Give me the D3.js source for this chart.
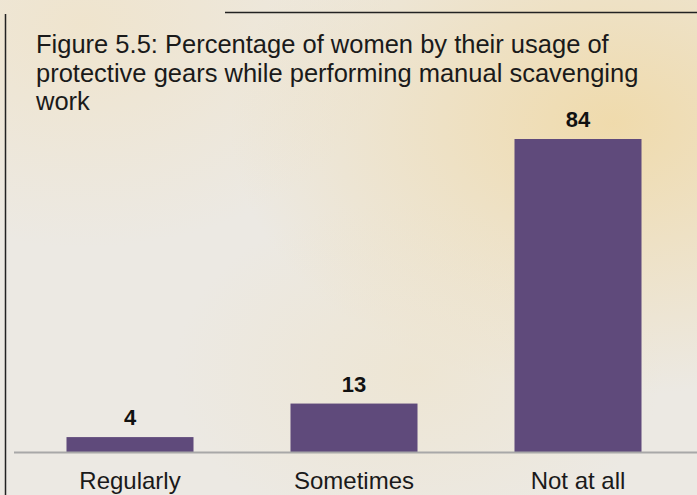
<!DOCTYPE html>
<html>
<head>
<meta charset="utf-8">
<script src="https://cdn.jsdelivr.net/npm/d3@7"></script>
<style>
  html, body { margin: 0; padding: 0; }
  body { width: 697px; height: 495px; overflow: hidden; }
</style>
</head>
<body>
<script>
var CATEGORIES = ["Regularly", "Sometimes", "Not at all"];
var VALUES = [4, 13, 84];
var TITLE_LINES = [
  "Figure 5.5: Percentage of women by their usage of",
  "protective gears while performing manual scavenging",
  "work"
];

var W = 697, H = 495;
var BASE_Y = 452, TOP_Y = 139;
var BAR_COLOR = "#5f4a7b";
var FONT = "'Liberation Sans', Arial, sans-serif";

var svg = d3.select("body").append("svg")
  .attr("width", W)
  .attr("height", H);

// parchment-like background: pale grey base with warm patches
var defs = svg.append("defs");
function addGlow(id, cx, cy, r, color, op) {
  var g = defs.append("radialGradient").attr("id", id)
    .attr("cx", cx).attr("cy", cy).attr("r", r);
  g.append("stop").attr("offset", "0").attr("stop-color", color).attr("stop-opacity", op);
  g.append("stop").attr("offset", "1").attr("stop-color", color).attr("stop-opacity", 0);
}
addGlow("warmR", 0.88, 0.25, 0.55, "#f0d9a6", 0.9);
addGlow("warmL", 0.12, 0.05, 0.45, "#f0e3c8", 0.8);
addGlow("warmM", 0.6, 0.75, 0.35, "#efe2c4", 0.5);

svg.append("rect").attr("width", W).attr("height", H).attr("fill", "#ece9e3");
["warmL", "warmR", "warmM"].forEach(function(id) {
  svg.append("rect").attr("width", W).attr("height", H).attr("fill", "url(#" + id + ")");
});

// frame lines
svg.append("line")
  .attr("x1", 225).attr("x2", W).attr("y1", 12.5).attr("y2", 12.5)
  .attr("stroke", "#222").attr("stroke-width", 1.5);
svg.append("line")
  .attr("x1", 5.5).attr("x2", 5.5).attr("y1", 14).attr("y2", H)
  .attr("stroke", "#222").attr("stroke-width", 1.5);

var x = d3.scaleBand()
  .domain(CATEGORIES)
  .range([18, 690])
  .paddingInner(0.433)
  .paddingOuter(0.2165);

var y = d3.scaleLinear()
  .domain([0, 84])
  .range([BASE_Y, TOP_Y]);

// title
svg.append("text")
  .attr("font-family", FONT)
  .attr("font-size", 25.5)
  .attr("fill", "#1a1a1a")
  .selectAll("tspan")
  .data(TITLE_LINES)
  .enter().append("tspan")
  .attr("x", 36)
  .attr("y", function(d, i) { return 53 + i * 28.5; })
  .text(function(d) { return d; });

// bars
svg.selectAll(".bar")
  .data(VALUES)
  .enter().append("rect")
  .attr("class", "bar")
  .attr("x", function(d, i) { return x(CATEGORIES[i]); })
  .attr("y", function(d) { return y(d); })
  .attr("width", x.bandwidth())
  .attr("height", function(d) { return BASE_Y - y(d); })
  .attr("fill", BAR_COLOR);

// value labels
svg.selectAll(".val")
  .data(VALUES)
  .enter().append("text")
  .attr("class", "val")
  .attr("x", function(d, i) { return x(CATEGORIES[i]) + x.bandwidth() / 2; })
  .attr("y", function(d) { return y(d) - 12; })
  .attr("text-anchor", "middle")
  .attr("font-family", FONT)
  .attr("font-weight", "bold")
  .attr("font-size", 22)
  .attr("fill", "#111")
  .text(function(d) { return d; });

// baseline axis
var axis = svg.append("g")
  .attr("transform", "translate(0," + BASE_Y + ")")
  .call(d3.axisBottom(x).tickSize(0).tickPadding(20));
axis.select(".domain")
  .attr("d", "M14,0.5H697")
  .attr("stroke", "#a8a8a8")
  .attr("stroke-width", 2);
axis.selectAll("text")
  .attr("font-family", FONT)
  .attr("font-size", 24)
  .attr("fill", "#1a1a1a");
</script>
</body>
</html>
